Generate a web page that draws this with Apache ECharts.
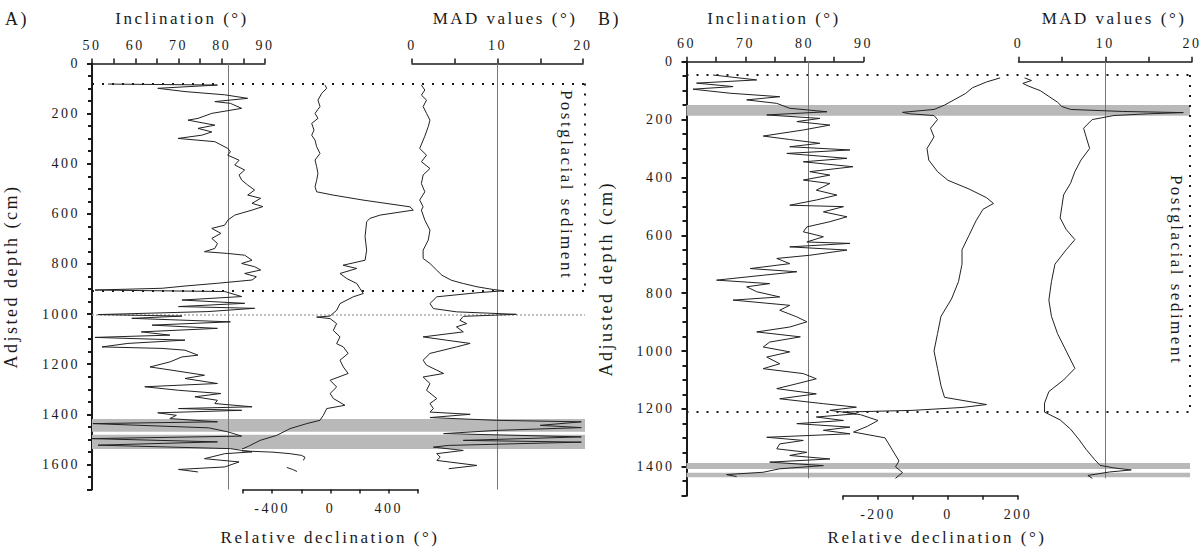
<!DOCTYPE html>
<html><head><meta charset="utf-8">
<script src="https://cdn.jsdelivr.net/npm/echarts@6/dist/echarts.min.js"></script>
<style>html,body{margin:0;padding:0;background:#fff}#c{width:1203px;height:554px}#c svg text{letter-spacing:2.5px}</style>
</head><body><div id="c"></div>
<script>
// ---------- Panel A data (depth in cm) ----------
const incADepth = [82,86,99,112,125,139,152,159,179,199,219,226,246,259,273,286,299,312,339,352,366,386,405,425,445,465,485,505,525,538,558,571,585,605,625,645,658,678,698,718,738,751,758,765,785,798,811,824,838,851,864,877,888,897,904,910,930,944,957,970,977,990,1002,1008,1017,1031,1044,1057,1071,1084,1093,1104,1117,1131,1137,1144,1164,1171,1191,1211,1224,1244,1257,1277,1290,1304,1317,1330,1344,1357,1370,1377,1384,1394,1404,1417,1430,1437,1454,1470,1487,1497,1510,1523,1537,1550,1557,1577,1590,1610,1620,1630];
const incAValue = [53.7,79,65.2,71.5,80.7,86,78.4,82,84.6,77.7,74.5,72.2,78.4,74.5,77.7,75.4,69.9,78.4,81.4,82,81.4,84,83,85.3,84,84.6,86,87.6,86,89,87,89.5,87,83,81.4,80.7,77.7,79.8,77.7,79,78.4,76,81.4,85.3,87,84.6,87.6,89,85.3,88,87,79,71.5,66.2,50.7,80.7,84.6,70.8,85.3,70,87.6,76.8,51.4,70.8,59.2,82,63.9,79,61.4,68,50.7,71.5,58.3,52.3,66.2,71.5,74.5,70.8,68,63.4,68.5,76,71.5,79,62.2,70,79.8,73.8,79,78.4,87,70,84.6,65.2,69.5,68,79,50.2,77,81.4,84.6,50,79,51.4,82,87,80.7,76,84,80.7,70,74.5];

const decADepth = [86,99,119,146,172,199,219,239,266,286,306,332,359,385,412,439,466,492,512,525,545,572,585,605,618,631,691,745,785,805,818,838,858,878,898,918,931,958,985,1008,1012,1018,1038,1065,1091,1118,1131,1157,1184,1211,1237,1264,1291,1317,1337,1364,1377,1404,1424,1437,1457,1484,1504,1528,1537,1544,1551,1557,1564,1571,1584,1598,1612,1620,1628];
const decAValue = [-38,-26,-60,-86,-72,-106,-86,-129,-113,-129,-106,-95,-72,-106,-95,-86,-95,-106,-95,17,223,545,568,340,271,248,237,248,237,86,180,65,111,180,202,225,156,65,42,-3,-95,-3,42,19,65,42,88,121,65,88,121,-3,42,-3,20,99,-26,-49,-72,-163,-277,-369,-483,-564,-600,-690,-394,-277,-198,-175,-186,null,-300,-260,-230];

const madADepth = [86,106,126,146,172,199,226,252,290,339,366,392,419,445,479,512,545,572,585,625,665,705,745,778,798,825,845,865,878,891,902,907,915,931,958,978,991,1001,1009,1025,1038,1051,1071,1091,1104,1117,1131,1157,1184,1204,1237,1251,1277,1304,1337,1357,1377,1391,1400,1413,1424,1430,1444,1453,1464,1477,1490,1504,1511,1524,1531,1544,1557,1571,1584,1604,1617];
const madAValue = [1.1,1.5,1.1,1.7,1.3,1.7,2.1,1.9,1.5,0.9,1.7,1.1,2.1,1.3,1.1,1.5,0.9,1.3,1.1,1.5,2.1,1.9,1.3,1.3,2.1,2.9,3.5,4.6,6,7.6,9.5,10.7,7.6,2.9,2.1,2.5,5.2,12.2,6,5.6,6.4,5.2,6,1.3,4,6.8,5.2,2.1,1.3,1.7,3.7,1.3,2.1,1.7,2.9,2.1,2.5,2.1,6.8,2.1,9.9,19.8,15,19.8,10,3.7,19.8,6,19.8,4.3,2.5,6,2.9,3.3,2.9,7.6,4.3];

// ---------- Panel B data ----------
const incBDepth = [46,63,74,86,95,109,121,132,144,161,173,184,196,207,219,236,257,269,282,294,305,317,334,346,363,380,392,409,421,444,461,478,496,501,519,536,553,571,588,605,623,628,640,651,669,680,698,715,726,738,755,767,778,795,813,824,842,859,882,899,917,934,951,969,986,1003,1021,1044,1061,1078,1096,1113,1130,1148,1165,1182,1194,1205,1217,1228,1240,1251,1263,1274,1286,1298,1309,1321,1338,1350,1361,1373,1384,1396,1407,1419,1427,1434];
const incBValue = [64.5,71.9,61.7,67.9,61.1,67.4,75.8,70.2,75.3,77.5,83.8,73.6,82.6,78.7,84.3,79.8,73,77.5,82.6,77.5,87.7,77,87.2,79.8,88.2,80.9,84.3,79.8,84.3,82,85.5,82,77.5,86.6,83.2,87.2,84.3,80.4,79.8,83.2,80.4,87.7,77.5,87.2,80.9,75.3,77.5,70.8,78.7,73,65.1,74.1,70.2,71.9,75.8,67.9,77.5,75.8,78.7,80.4,77.5,71.9,79.3,74.1,73,77.5,73.6,75.8,73,79.8,82,78.7,75.3,82,75.8,83.2,88.8,84.3,88.8,82,86.6,78.7,87.7,83.2,87.7,73.6,79.8,75.8,75.3,80.4,77.5,84.3,74.1,83.2,75.8,73,66.8,68.5];

const decBDepth = [56,70,90,110,130,150,165,175,180,186,200,230,260,300,340,380,410,440,470,490,510,550,600,650,700,760,820,880,940,1000,1060,1120,1160,1185,1195,1205,1211,1220,1240,1260,1280,1300,1340,1380,1400,1420,1440];
const decBValue = [149,110,70,50,20,-10,-40,-130,-110,-40,-30,-50,-40,-60,-55,-30,0,60,110,130,100,80,60,40,40,30,10,-20,-30,-40,-30,-20,-10,110,40,-100,-300,-250,-200,-230,-270,-180,-160,-140,-150,-130,-150];

const madBDepth = [56,65,75,85,100,120,140,155,165,172,176,180,186,200,230,260,300,340,380,420,460,500,540,580,615,650,700,760,824,880,940,1000,1060,1100,1140,1180,1211,1238,1270,1307,1340,1376,1395,1404,1411,1418,1430,1440];
const madBValue = [0.7,1.5,0.5,1.2,2.5,3.5,4.5,5,6,12,19,15,11,8.5,7.5,7.8,8.2,7.2,6.5,6,5.2,5,4.8,5.5,6.5,5.5,4.2,3.8,3.5,3.8,4.5,5.5,6.5,5.2,3.5,3,3,4.8,6,7,7.8,8.8,9.4,11,13,10.5,8,8.5];

// ---------- reference lines, bands, unit boundaries ----------
const refIncA = 81.4, refIncB = 80.6, refMAD = 10;
const bandsA = [[1419,1470],[1482,1538]];
const bandsB = [[150,187],[1387,1408],[1421,1436]];
const postglacialA = [80,905];
const lineA1004 = 1004;
const postglacialB = [46,1211];

// ---------- build chart ----------
const FONT = 'Liberation Serif';
const INK = '#1a1a1a';
function pts(vals, depths){ return depths.map((d,i)=> vals[i]==null ? ['-','-'] : [vals[i], d]); }

const A = {top:63.5, height:426, max:1700};
const B = {top:61.7, height:434, max:1500};
const grids = [
  {left:92,   top:A.top, width:173,   height:A.height},  // 0 inc A
  {left:243,  top:A.top, width:175,   height:A.height},  // 1 dec A
  {left:412,  top:A.top, width:171,   height:A.height},  // 2 MAD A
  {left:92,   top:A.top, width:493,   height:A.height},  // 3 overlay A
  {left:686.5,top:B.top, width:177,   height:B.height},  // 4 inc B
  {left:843,  top:B.top, width:175,   height:B.height},  // 5 dec B
  {left:1018.5,top:B.top,width:173.5, height:B.height},  // 6 MAD B
  {left:686.5,top:B.top, width:503.5, height:B.height}   // 7 overlay B
];
const lbl = {fontFamily:FONT, fontSize:14, color:INK};
function topAxis(gi,min,max,interval){
  return {gridIndex:gi,type:'value',position:'top',min,max,interval,
    axisLine:{show:true,onZero:false,lineStyle:{color:INK,width:1.5}},
    axisTick:{show:true,inside:false,length:5,lineStyle:{color:INK,width:1.5}},
    minorTick:{show:true,splitNumber:2,length:5,lineStyle:{color:INK,width:1.5}},
    splitLine:{show:false},
    axisLabel:Object.assign({margin:11},lbl)};
}
function botAxis(gi,min,max,interval,shown){
  return {gridIndex:gi,type:'value',position:'bottom',min,max,interval,
    axisLine:{show:true,onZero:false,lineStyle:{color:INK,width:1.5}},
    axisTick:{show:true,length:4,lineStyle:{color:INK,width:1.5}},
    splitLine:{show:false},
    axisLabel:Object.assign({margin:12,formatter:v=>shown.indexOf(v)>=0?String(v):''},lbl)};
}
function hiddenX(gi){ return {gridIndex:gi,type:'value',min:0,max:1,show:false}; }
function yAx(gi,P,showIt,name){
  const o = {gridIndex:gi,type:'value',inverse:true,min:0,max:P.max,interval:200,show:showIt,
    splitLine:{show:false}};
  if(showIt){
    Object.assign(o,{
      axisLine:{show:true,onZero:false,lineStyle:{color:INK,width:2}},
      axisTick:{show:true,length:5,lineStyle:{color:INK,width:2}},
      minorTick:{show:true,splitNumber:4,length:4,lineStyle:{color:INK,width:2}},
      axisLabel:Object.assign({margin:12,formatter:v=>(v%200===0 && v<P.max)?String(v):''},lbl),
      name:name,nameLocation:'middle',nameGap:72,nameRotate:90,
      nameTextStyle:{fontFamily:FONT,fontSize:18,color:INK}
    });
  }
  return o;
}
const xAxes = [
  topAxis(0,50,90,10),
  botAxis(1,-600,600,200,[-400,0,400]),
  topAxis(2,0,20,10),
  hiddenX(3),
  topAxis(4,60,90,10),
  botAxis(5,-300,200,100,[-200,0,200]),
  topAxis(6,0,20,10),
  hiddenX(7)
];
const yAxes = [
  yAx(0,A,true,'Adjsted depth (cm)'), yAx(1,A,false), yAx(2,A,false), yAx(3,A,false),
  yAx(4,B,true,'Adjusted depth (cm)'), yAx(5,B,false), yAx(6,B,false), yAx(7,B,false)
];

function curve(gi,data){
  return {type:'line',xAxisIndex:gi,yAxisIndex:gi,data,showSymbol:false,symbol:'none',clip:false,
    lineStyle:{color:'#222',width:1},z:5,animation:false,connectNulls:false};
}
function refLine(gi,x,dmax){
  return {type:'line',xAxisIndex:gi,yAxisIndex:gi,data:[],z:2,animation:false,
    markLine:{silent:true,symbol:'none',label:{show:false},animation:false,
      lineStyle:{color:'#777',width:1,type:'solid'},
      data:[[{coord:[x,0]},{coord:[x,dmax]}]]}};
}
function overlay(gi,bands,pg,extra){
  const dot = {color:INK,width:2,type:[2,8]};
  const lines = [
    [{coord:[0,pg[0]],lineStyle:dot},{coord:[1,pg[0]]}],
    [{coord:[1,pg[0]],lineStyle:dot},{coord:[1,pg[1]]}],
    [{coord:[0,pg[1]],lineStyle:dot},{coord:[1,pg[1]]}]
  ];
  (extra||[]).forEach(e=>lines.push(e));
  return {type:'line',xAxisIndex:gi,yAxisIndex:gi,data:[],z:1,animation:false,
    markArea:{silent:true,itemStyle:{color:'#b9b9b9'},animation:false,
      data:bands.map(b=>[{coord:[0,b[0]]},{coord:[1,b[1]]}])},
    markLine:{silent:true,symbol:'none',label:{show:false},animation:false,data:lines}};
}

const series = [
  overlay(3,bandsA,postglacialA,[
    [{coord:[0,lineA1004],lineStyle:{color:'#aaa',width:1.5,type:[2,2]}},{coord:[1,lineA1004]}]
  ]),
  overlay(7,bandsB,postglacialB),
  refLine(0,refIncA,1700), refLine(2,refMAD,1700),
  refLine(4,refIncB,1440), refLine(6,refMAD,1440),
  curve(0,pts(incAValue,incADepth)),
  curve(1,pts(decAValue,decADepth)),
  curve(2,pts(madAValue,madADepth)),
  curve(4,pts(incBValue,incBDepth)),
  curve(5,pts(decBValue,decBDepth)),
  curve(6,pts(madBValue,madBDepth))
];

function txt(x,y,s,size,align,rot){
  return {type:'text',x,y,rotation:rot||0,z:10,
    style:{text:s,fontFamily:FONT,fontSize:size,fill:INK,align:align||'center',verticalAlign:'middle'}};
}
const graphic = [
  txt(5,19,'A)',18,'left'),
  txt(598,19,'B)',18,'left'),
  txt(182,18,'Inclination (°)',17),
  txt(505,18,'MAD values (°)',17),
  txt(774,18,'Inclination (°)',17),
  txt(1114,18,'MAD values (°)',17),
  txt(330,537,'Relative declination (°)',17),
  txt(937,537,'Relative declination (°)',17),
  txt(566,185,'Postglacial sediment',17,'center',-Math.PI/2),
  txt(1176,270,'Postglacial sediment',17,'center',-Math.PI/2)
];

const chart = echarts.init(document.getElementById('c'),null,{renderer:'svg'});
chart.setOption({animation:false,backgroundColor:'#fff',grid:grids,xAxis:xAxes,yAxis:yAxes,series,graphic});
</script></body></html>
